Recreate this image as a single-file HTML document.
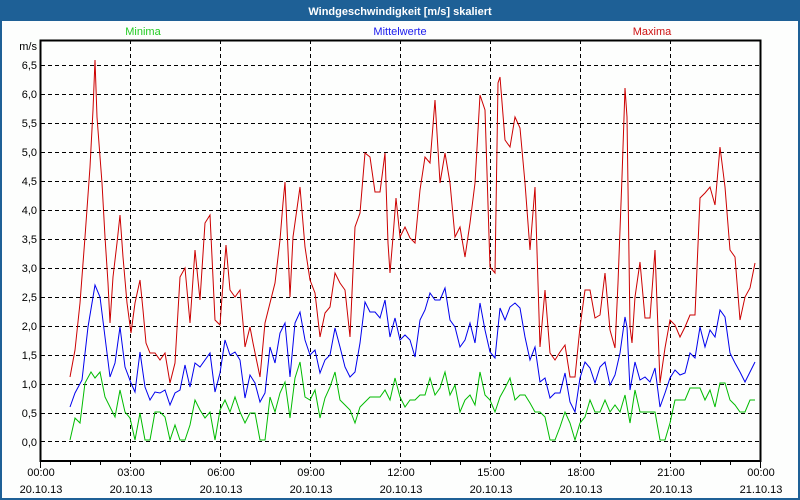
<!DOCTYPE html>
<html><head><meta charset="utf-8"><style>
html,body{margin:0;padding:0;background:#fff}
svg{display:block}
text{font-family:"Liberation Sans",sans-serif;font-size:11px}
</style></head><body>
<svg width="800" height="500" viewBox="0 0 800 500" xmlns="http://www.w3.org/2000/svg">
<rect x="0" y="0" width="800" height="500" fill="#1e6096"/>
<rect x="2" y="21" width="796" height="477" fill="#fdfefd"/>
<text x="400" y="15" fill="#fff" text-anchor="middle" font-weight="bold">Windgeschwindigkeit [m/s] skaliert</text>
<text x="143" y="35" fill="#22cc22" text-anchor="middle">Minima</text>
<text x="400" y="35" fill="#1a1aee" text-anchor="middle">Mittelwerte</text>
<text x="652" y="35" fill="#cc1111" text-anchor="middle">Maxima</text>
<g stroke="#000" stroke-width="1" stroke-dasharray="4,3" fill="none">
<path d="M41 65.5H760M41 94.5H760M41 123.5H760M41 152.5H760M41 181.5H760M41 210.5H760M41 239.5H760M41 268.5H760M41 297.5H760M41 326.5H760M41 355.5H760M41 384.5H760M41 413.5H760M41 441.5H760"/>
<path d="M130.5 40V468M220.5 40V468M310.5 40V468M400.5 40V468M490.5 40V468M580.5 40V468M670.5 40V468"/>
</g>
<g stroke="#000" stroke-width="1">
<path d="M70.5 461V465M100.5 461V465M160.5 461V465M190.5 461V465M250.5 461V465M280.5 461V465M340.5 461V465M370.5 461V465M430.5 461V465M460.5 461V465M520.5 461V465M550.5 461V465M610.5 461V465M640.5 461V465M700.5 461V465M730.5 461V465M40.5 461V468M760.5 461V468"/>
</g>
<rect x="40.5" y="40.5" width="720" height="420.5" fill="none" stroke="#000" stroke-width="2"/>
<g fill="#000" text-anchor="end">
<text x="37" y="50">m/s</text>
<text x="37" y="69">6,5</text><text x="37" y="98">6,0</text><text x="37" y="127">5,5</text><text x="37" y="156">5,0</text><text x="37" y="185">4,5</text><text x="37" y="214">4,0</text><text x="37" y="243">3,5</text><text x="37" y="272">3,0</text><text x="37" y="301">2,5</text><text x="37" y="330">2,0</text><text x="37" y="359">1,5</text><text x="37" y="388">1,0</text><text x="37" y="417">0,5</text><text x="37" y="446">0,0</text>
</g>
<g fill="#000" text-anchor="middle">
<text x="41" y="476">00:00</text><text x="41" y="493">20.10.13</text>
<text x="131" y="476">03:00</text><text x="131" y="493">20.10.13</text>
<text x="221" y="476">06:00</text><text x="221" y="493">20.10.13</text>
<text x="311" y="476">09:00</text><text x="311" y="493">20.10.13</text>
<text x="401" y="476">12:00</text><text x="401" y="493">20.10.13</text>
<text x="491" y="476">15:00</text><text x="491" y="493">20.10.13</text>
<text x="581" y="476">18:00</text><text x="581" y="493">20.10.13</text>
<text x="671" y="476">21:00</text><text x="671" y="493">20.10.13</text>
<text x="761" y="476">00:00</text><text x="761" y="493">21.10.13</text>
</g>
<g fill="none" stroke-width="1" stroke-linejoin="miter">
<polyline stroke="#cc0000" points="70,377 75,350 80,303 85,237 90,167 93,110 95,60 97,117 102,183 105,237 108,283 110,323 113,277 117,243 120,215 123,257 127,303 131,333 135,303 140,280 143,310 146,343 150,353 155,353 160,360 165,353 170,383 175,363 180,277 185,268 190,323 195,250 200,300 205,223 210,215 215,320 220,325 223,283 226,245 230,290 235,297 240,290 243,323 245,347 250,327 253,343 260,377 265,323 270,303 275,283 280,240 283,203 285,182 288,250 290,297 293,237 300,187 305,247 310,280 315,293 320,337 325,313 330,307 335,273 340,283 345,290 350,337 355,227 360,213 365,153 370,157 375,192 380,192 385,153 388,243 390,273 393,237 396,198 400,237 405,227 410,238 415,243 420,190 425,157 430,163 435,100 437,133 440,183 445,153 450,183 455,237 460,227 465,257 470,223 475,183 480,95 485,110 490,267 495,273 498,83 500,77 505,140 510,147 515,117 520,128 525,183 530,250 535,187 540,347 545,290 550,353 555,360 560,352 565,345 570,377 575,377 580,327 585,290 590,290 595,318 600,315 605,273 610,330 615,348 618,283 622,177 625,88 627,117 630,327 632,343 635,297 640,262 645,318 650,318 655,250 660,383 665,348 670,320 675,325 680,337 685,327 690,315 695,315 700,198 705,193 710,187 715,205 720,147 725,187 730,250 735,257 740,320 745,297 750,288 755,263"/>
<polyline stroke="#0000ee" points="70,407 75,393 82,380 88,327 95,285 100,297 105,337 110,377 115,363 120,327 125,367 131,383 135,392 140,352 145,387 150,400 155,392 160,393 165,390 170,405 175,393 180,390 185,365 190,387 195,363 200,367 210,353 215,392 220,373 225,340 230,355 235,352 240,360 245,398 250,375 255,383 260,402 265,393 270,347 275,363 280,333 285,323 290,377 295,323 300,312 305,340 310,355 315,350 320,373 325,360 330,355 335,328 340,347 345,367 350,377 355,372 360,343 365,302 370,312 375,312 380,318 385,300 390,337 395,318 400,340 405,335 410,340 415,357 420,320 425,310 430,293 435,300 440,300 445,288 450,320 455,327 460,347 465,340 470,323 475,343 480,303 485,330 490,352 495,358 500,308 505,320 510,307 515,303 520,308 525,337 530,360 535,347 540,382 545,378 550,398 555,393 560,393 565,373 570,402 575,412 580,378 585,362 590,368 595,383 600,367 605,362 610,385 615,375 620,353 625,317 627,327 630,390 635,362 640,380 645,377 650,382 655,368 660,407 665,393 670,378 675,370 680,375 685,373 690,353 695,358 700,327 705,347 710,330 715,337 720,310 725,317 730,353 735,363 740,372 745,382 750,372 755,362"/>
<polyline stroke="#00bb00" points="70,440 75,418 80,423 85,383 91,372 95,378 100,372 105,397 115,417 120,390 125,412 130,418 135,440 140,413 145,440 150,440 155,412 160,412 165,417 170,440 175,425 180,440 185,440 190,425 195,400 200,410 205,418 210,412 215,440 220,410 225,400 230,412 235,397 240,412 245,423 250,413 255,413 260,440 265,440 270,397 275,412 280,393 285,382 290,418 295,378 300,362 305,397 310,400 315,390 320,418 325,398 330,387 335,372 340,400 345,405 350,410 355,423 360,407 365,402 370,397 380,397 385,390 390,400 395,378 400,397 405,407 410,400 415,400 420,395 425,395 430,378 435,395 440,388 445,372 450,395 455,385 460,412 465,400 470,395 475,405 480,372 485,395 490,400 495,412 500,397 505,388 510,378 515,400 520,395 525,395 530,403 535,412 540,412 545,417 550,440 555,440 560,427 565,412 570,423 575,440 580,423 585,417 590,400 595,412 600,412 605,400 610,412 615,405 620,412 625,395 630,423 635,390 640,412 650,412 655,412 660,440 665,440 670,423 675,400 685,400 690,388 700,388 705,400 710,390 715,407 720,383 725,383 730,400 735,405 740,412 745,412 750,400 755,400"/>
</g>
</svg>
</body></html>
